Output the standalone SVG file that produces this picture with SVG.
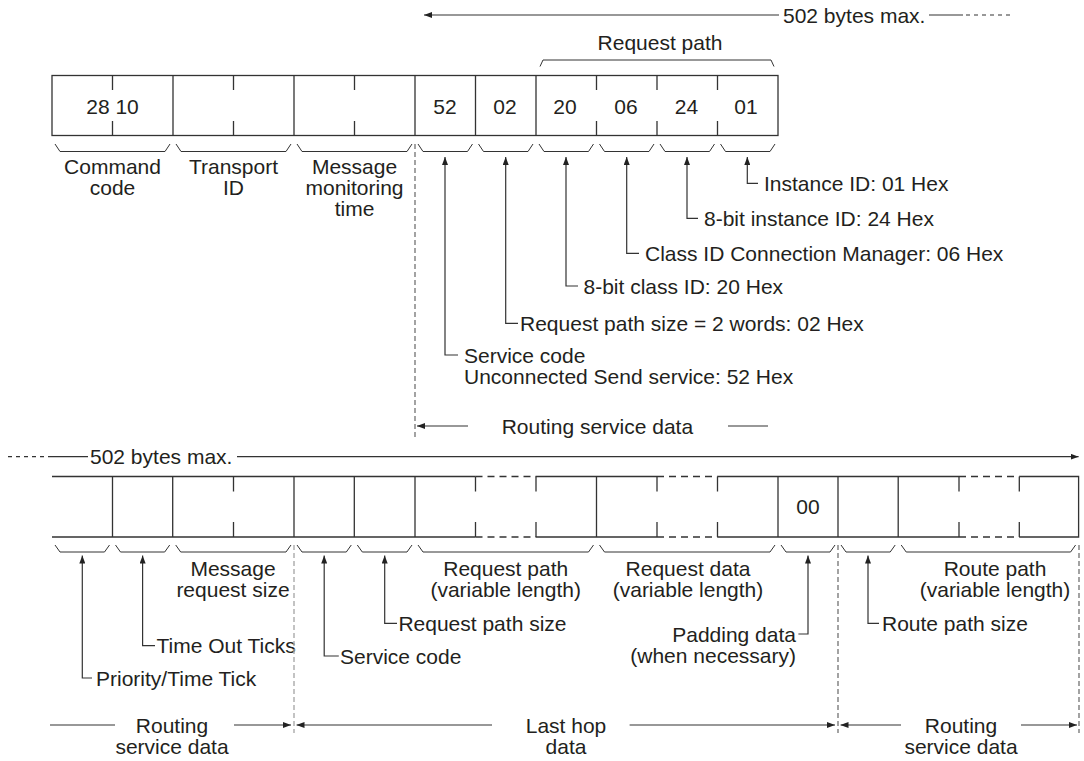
<svg xmlns="http://www.w3.org/2000/svg" width="1084" height="761" viewBox="0 0 1084 761">
<defs>
<style>
text{font-family:"Liberation Sans",Arial,Helvetica,sans-serif;font-size:21px;fill:#231f20}
.m{text-anchor:middle}
.e{text-anchor:end}
.ln{stroke:#333;stroke-width:1.2;fill:none}
.bx{stroke:#333;stroke-width:1.3;fill:none}
.dsh{stroke:#333;stroke-width:1.3;fill:none;stroke-dasharray:7 5}
.br{stroke:#333;stroke-width:1;fill:none}
.vd{stroke:#666;stroke-width:1.2;fill:none;stroke-dasharray:5 3}
.vdl{stroke:#aaa;stroke-width:1.4;fill:none;stroke-dasharray:5 3}
.td{stroke:#333;stroke-width:1.2;fill:none;stroke-dasharray:4 4}
</style>
<marker id="ah" viewBox="0 0 8 6" refX="8" refY="3" markerWidth="8" markerHeight="6" markerUnits="userSpaceOnUse" orient="auto">
<path d="M0,0 L8,3 L0,6 z" fill="#222"/>
</marker>
</defs>

<!-- ================= TOP FRAME ================= -->
<g id="top-length">
<line class="ln" x1="779" y1="15" x2="424" y2="15" marker-end="url(#ah)"/>
<text x="783" y="22.5">502 bytes max.</text>
<line class="ln" x1="929" y1="15" x2="963" y2="15"/>
<line class="td" x1="966" y1="15" x2="1010" y2="15"/>
</g>

<g id="top-request-path-label">
<text class="m" x="660" y="50">Request path</text>
<path class="br" d="M540,66.5 L543,60 L771,60 L774,66.5"/>
</g>

<g id="top-frame">
<rect class="bx" x="52" y="75.5" width="726" height="60"/>
<path class="bx" d="M173,75.5V135.5 M294,75.5V135.5 M415,75.5V135.5 M475.5,75.5V135.5 M536,75.5V135.5"/>
<path class="bx" d="M112.5,75.5V90 M112.5,121V135.5 M233.5,75.5V90 M233.5,121V135.5 M354.5,75.5V90 M354.5,121V135.5 M596.5,75.5V90 M596.5,121V135.5 M657,75.5V90 M657,121V135.5 M717.5,75.5V90 M717.5,121V135.5"/>
<text class="m" x="112.5" y="114">28 10</text>
<text class="m" x="445" y="114">52</text>
<text class="m" x="505" y="114">02</text>
<text class="m" x="565" y="114">20</text>
<text class="m" x="626" y="114">06</text>
<text class="m" x="686.5" y="114">24</text>
<text class="m" x="746" y="114">01</text>
</g>

<g id="top-brackets">
<path class="br" d="M55,144 L60,151.5 L165,151.5 L170,144"/>
<path class="br" d="M176,144 L181,151.5 L286,151.5 L291,144"/>
<path class="br" d="M297,144 L302,151.5 L407,151.5 L412,144"/>
<path class="br" d="M418,144 L423,151.5 L467.5,151.5 L472.5,144"/>
<path class="br" d="M478.5,144 L483.5,151.5 L528,151.5 L533,144"/>
<path class="br" d="M539,144 L544,151.5 L588.5,151.5 L593.5,144"/>
<path class="br" d="M599.5,144 L604.5,151.5 L649,151.5 L654,144"/>
<path class="br" d="M660,144 L665,151.5 L709.5,151.5 L714.5,144"/>
<path class="br" d="M720.5,144 L725.5,151.5 L770,151.5 L775,144"/>
</g>

<g id="top-field-labels">
<text class="m" x="112.5" y="174">Command</text>
<text class="m" x="112.5" y="195">code</text>
<text class="m" x="233.5" y="174">Transport</text>
<text class="m" x="233.5" y="195">ID</text>
<text class="m" x="354.5" y="174">Message</text>
<text class="m" x="354.5" y="195">monitoring</text>
<text class="m" x="354.5" y="216">time</text>
</g>

<g id="top-leaders">
<path class="ln" d="M458,355 H445 V157" marker-end="url(#ah)"/>
<path class="ln" d="M518,323.3 H505.7 V157" marker-end="url(#ah)"/>
<path class="ln" d="M578,286 H566 V157" marker-end="url(#ah)"/>
<path class="ln" d="M639,253.3 H626.7 V157" marker-end="url(#ah)"/>
<path class="ln" d="M698,218.3 H687 V157" marker-end="url(#ah)"/>
<path class="ln" d="M758,183.3 H747.3 V157" marker-end="url(#ah)"/>
</g>
<g id="top-leader-texts">
<text x="764" y="191">Instance ID: 01 Hex</text>
<text x="704" y="226">8-bit instance ID: 24 Hex</text>
<text x="645" y="261">Class ID Connection Manager: 06 Hex</text>
<text x="583.5" y="293.5">8-bit class ID: 20 Hex</text>
<text x="520" y="331">Request path size = 2 words: 02 Hex</text>
<text x="464" y="362.5">Service code</text>
<text x="464" y="383.5">Unconnected Send service: 52 Hex</text>
</g>

<g id="top-routing">
<line class="vd" x1="415" y1="144" x2="415" y2="437"/>
<line class="ln" x1="468" y1="426" x2="417" y2="426" marker-end="url(#ah)"/>
<text x="501.7" y="433.5">Routing service data</text>
<line class="ln" x1="728" y1="426" x2="768" y2="426"/>
</g>

<!-- ================= BOTTOM FRAME ================= -->
<g id="bottom-length">
<line class="td" x1="8" y1="456.7" x2="50" y2="456.7"/>
<line class="ln" x1="50" y1="456.7" x2="88" y2="456.7"/>
<text x="90" y="464">502 bytes max.</text>
<line class="ln" x1="237" y1="456.7" x2="1078.6" y2="456.7" marker-end="url(#ah)"/>
</g>

<g id="bottom-frame">
<path class="bx" d="M52,476.5 H475.5 M536,476.5 H657 M717.5,476.5 H959 M1019.3,476.5 H1078.6 V537 H1019.3 M959,537 H717.5 M657,537 H536 M475.5,537 H52 Z"/>
<path class="dsh" d="M475.5,476.5 H536 M657,476.5 H717.5 M959,476.5 H1019.3 M475.5,537 H536 M657,537 H717.5 M959,537 H1019.3"/>
<path class="bx" d="M112.5,476.5V537 M172.7,476.5V537 M294,476.5V537 M354.3,476.5V537 M415,476.5V537 M596.5,476.5V537 M778,476.5V537 M838,476.5V537 M898.2,476.5V537"/>
<path class="bx" d="M233.5,476.5V491.5 M233.5,522V537 M475.5,476.5V491.5 M475.5,522V537 M536,476.5V491.5 M536,522V537 M657,476.5V491.5 M657,522V537 M717.5,476.5V491.5 M717.5,522V537 M959,476.5V491.5 M959,522V537 M1019.3,476.5V491.5 M1019.3,522V537"/>
<text class="m" x="808" y="514">00</text>
</g>

<g id="bottom-brackets">
<path class="br" d="M55,545 L60,552 L104.5,552 L109.5,545"/>
<path class="br" d="M115.5,545 L120.5,552 L164.7,552 L169.7,545"/>
<path class="br" d="M175.7,545 L180.7,552 L286,552 L291,545"/>
<path class="br" d="M297,545 L302,552 L346.3,552 L351.3,545"/>
<path class="br" d="M357.3,545 L362.3,552 L407,552 L412,545"/>
<path class="br" d="M418,545 L423,552 L588.5,552 L593.5,545"/>
<path class="br" d="M599.5,545 L604.5,552 L770,552 L775,545"/>
<path class="br" d="M781,545 L786,552 L830,552 L835,545"/>
<path class="br" d="M841,545 L846,552 L890.2,552 L895.2,545"/>
<path class="br" d="M901.2,545 L906.2,552 L1070.6,552 L1075.6,545"/>
</g>

<g id="bottom-field-labels">
<text class="m" x="233" y="576">Message</text>
<text class="m" x="233" y="597">request size</text>
<text class="m" x="505.7" y="576">Request path</text>
<text class="m" x="505.7" y="597">(variable length)</text>
<text class="m" x="688" y="576">Request data</text>
<text class="m" x="688" y="597">(variable length)</text>
<text class="m" x="995" y="576">Route path</text>
<text class="m" x="995" y="597">(variable length)</text>
</g>

<g id="bottom-leaders">
<path class="ln" d="M92,678 H82.3 V555.5" marker-end="url(#ah)"/>
<path class="ln" d="M155,645.7 H142.6 V555.5" marker-end="url(#ah)"/>
<path class="ln" d="M338.8,656 H324.2 V555.5" marker-end="url(#ah)"/>
<path class="ln" d="M397,623.3 H384.7 V555.5" marker-end="url(#ah)"/>
<path class="ln" d="M798.4,634 H808 V555.5" marker-end="url(#ah)"/>
<path class="ln" d="M879,623.3 H868 V555.5" marker-end="url(#ah)"/>
</g>
<g id="bottom-leader-texts">
<text x="96" y="685.5">Priority/Time Tick</text>
<text x="156.5" y="653">Time Out Ticks</text>
<text x="340" y="663.5">Service code</text>
<text x="398.4" y="631">Request path size</text>
<text class="e" x="796" y="641.5">Padding data</text>
<text class="e" x="796" y="662.5">(when necessary)</text>
<text x="882" y="631">Route path size</text>
</g>

<g id="bottom-spans">
<line class="vdl" x1="294" y1="545" x2="294" y2="733"/>
<line class="vd" x1="838" y1="545" x2="838" y2="733"/>
<line class="vd" x1="1079" y1="545" x2="1079" y2="733"/>
<line class="ln" x1="50" y1="725" x2="115" y2="725"/>
<text class="m" x="172" y="733">Routing</text>
<text class="m" x="172" y="754">service data</text>
<line class="ln" x1="234" y1="725" x2="291" y2="725" marker-end="url(#ah)"/>
<line class="ln" x1="492" y1="725" x2="296.5" y2="725" marker-end="url(#ah)"/>
<text class="m" x="566" y="733">Last hop</text>
<text class="m" x="566" y="754">data</text>
<line class="ln" x1="629.6" y1="725" x2="835" y2="725" marker-end="url(#ah)"/>
<line class="ln" x1="901" y1="725" x2="840.5" y2="725" marker-end="url(#ah)"/>
<text class="m" x="961" y="733">Routing</text>
<text class="m" x="961" y="754">service data</text>
<line class="ln" x1="1021" y1="725" x2="1077" y2="725" marker-end="url(#ah)"/>
</g>
</svg>
